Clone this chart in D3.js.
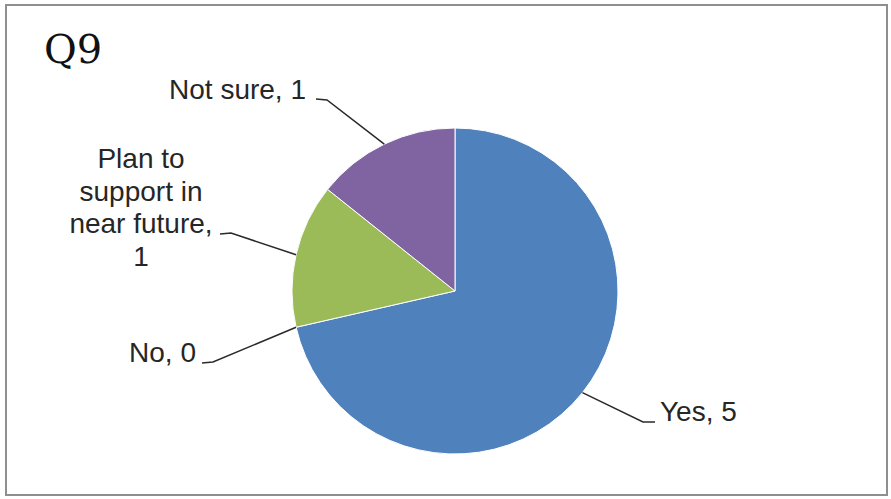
<!DOCTYPE html>
<html>
<head>
<meta charset="utf-8">
<script src="https://cdn.jsdelivr.net/npm/d3@7"></script>
<style>
  html, body { margin: 0; padding: 0; background: #fff; }
  svg { display: block; }
</style>
</head>
<body>
<svg id="chart" width="891" height="499"></svg>
<script>
// ---- data ----
const title = "Q9";
const categories = ["Yes", "No", "Plan to support in near future", "Not sure"];
const values = [5, 0, 1, 1];
const colors = ["#4F81BD", "#C0504D", "#9BBB59", "#8064A2"];

// label text lines
const labelLines = [
  ["Yes, 5"],
  ["No, 0"],
  ["Plan to", "support in", "near future,", "1"],
  ["Not sure, 1"]
];

const W = 891, H = 499;
const cx = 455, cy = 291, R = 163;

const svg = d3.select("#chart");

// outer border
svg.append("rect")
  .attr("x", 6).attr("y", 5).attr("width", 881).attr("height", 490)
  .attr("fill", "#fff").attr("stroke", "#8f8f8f").attr("stroke-width", 2);

// title
svg.append("text")
  .attr("x", 44).attr("y", 63)
  .attr("font-family", "'DejaVu Serif', 'Liberation Serif', serif")
  .attr("font-size", 40)
  .attr("fill", "#111")
  .text(title);

const data = categories.map((c, i) => ({ cat: c, value: values[i], color: colors[i], lines: labelLines[i] }));

const pie = d3.pie().sort(null).value(d => d.value);
const arcs = pie(data);
const arc = d3.arc().innerRadius(0).outerRadius(R);
const edge = d3.arc().innerRadius(R).outerRadius(R);

const g = svg.append("g").attr("transform", `translate(${cx},${cy})`);

g.selectAll("path.slice")
  .data(arcs.filter(d => d.value > 0))
  .join("path")
  .attr("class", "slice")
  .attr("d", arc)
  .attr("fill", d => d.data.color)
  .attr("stroke", "#fff")
  .attr("stroke-width", 1);

// label placement (layout only)
const labelLayout = [
  { x: 660, y: 421, anchor: "start", elbow: [643, 422], tail: [655, 422] },
  { x: 196, y: 362, anchor: "end", elbow: [213, 362], tail: [202, 363] },
  { x: 141, y: 168, anchor: "middle", elbow: [231, 233], tail: [220, 234] },
  { x: 306, y: 99, anchor: "end", elbow: [327, 100], tail: [316, 99] }
];

const fontSize = 28, lineH = 32.5;

arcs.forEach((a, i) => {
  const L = labelLayout[i];
  const [ex, ey] = edge.centroid(a);
  const p0 = [cx + ex, cy + ey];
  svg.append("polyline")
    .attr("points", [p0, L.elbow, L.tail].map(p => p.join(",")).join(" "))
    .attr("fill", "none")
    .attr("stroke", "#2a2a2a")
    .attr("stroke-width", 1.5);

  const t = svg.append("text")
    .attr("font-family", "'Liberation Sans', Arial, sans-serif")
    .attr("font-size", fontSize)
    .attr("fill", "#262626")
    .attr("text-anchor", L.anchor);
  a.data.lines.forEach((ln, j) => {
    t.append("tspan").attr("x", L.x).attr("y", L.y + j * lineH).text(ln);
  });
});
</script>
</body>
</html>
